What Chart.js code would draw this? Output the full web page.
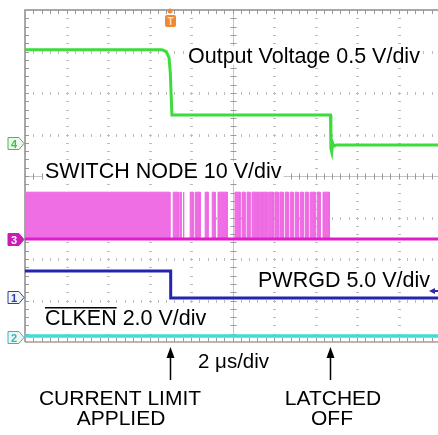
<!DOCTYPE html>
<html lang="en">
<head>
<meta charset="UTF-8">
<title>Current limit scope capture</title>
<style>
  body { margin: 0; background: #fff; overflow: hidden; }
  #wrap { position: relative; width: 438px; height: 435px; }
</style>
<script src="https://cdn.jsdelivr.net/npm/chart.js"></script>
</head>
<body>
<div id="wrap"><canvas id="scope" width="438" height="435"></canvas></div>
<script>
// x = horizontal divisions (2 us/div), y = vertical divisions from bottom of screen
const xMax = 9.95;

// channel 4 - output voltage
const outX = [0, 3.30, 3.40, 3.47, 3.50, 3.54, 7.36, 7.37, 7.39, 7.41, 7.44, 7.50, xMax];
const outY = [7.04, 7.04, 7.00, 6.85, 6.50, 5.47, 5.47, 4.66, 4.58, 4.80, 4.72, 4.75, 4.75];

// channel 3 - switch node (baseline / top of pulses, pulse edges)
const swLow = 2.48;
const swHigh = 3.61;
const pulseStart = [0, 3.57, 3.73, 3.81, 3.98, 4.10, 4.14, 4.34, 4.51, 4.65, 5.06, 5.23, 5.35, 5.47,
                    5.61, 5.73, 5.86, 6.02, 6.14, 6.27, 6.39, 6.51, 6.63, 6.75, 6.87, 7.04, 7.18];
const pulseEnd   = [3.49, 3.69, 3.76, 3.83, 4.05, 4.12, 4.22, 4.41, 4.58, 4.87, 5.18, 5.30, 5.42, 5.59,
                    5.71, 5.83, 5.98, 6.10, 6.22, 6.34, 6.46, 6.58, 6.70, 6.82, 6.99, 7.11, 7.33];

// channel 1 - PWRGD
const pgX = [0, 3.51, 3.51, xMax];
const pgY = [1.71, 1.71, 1.06, 1.06];

// channel 2 - CLKEN
const ckX = [0, xMax];
const ckY = [0.145, 0.145];

// channel ground markers on the left
const chanLabels = ['4', '3', '1', '2'];
const chanLevels = [4.80, 2.48, 1.08, 0.12];
const chanColors = ['#3cc43c', '#c81cb4', '#3838b0', '#30b8c0'];

// events marked under the screen
const eventX = [3.50, 7.36];
const eventLines = [['CURRENT LIMIT', 'APPLIED'], ['LATCHED', 'OFF']];

const pts = (xs, ys) => xs.map((v, i) => ({x: v, y: ys[i]}));

const swPts = [];
pulseStart.forEach((s, i) => {
  swPts.push({x: s, y: swLow}, {x: s, y: swHigh}, {x: pulseEnd[i], y: swHigh}, {x: pulseEnd[i], y: swLow});
});
swPts.push({x: xMax, y: swLow});

const FONT = "'Liberation Sans', Arial, sans-serif";

function label(ctx, text, x, y, size, align) {
  ctx.font = size + 'px ' + FONT;
  ctx.textAlign = align || 'left';
  const w = ctx.measureText(text).width;
  const left = align === 'center' ? x - w / 2 : x;
  ctx.fillStyle = '#fff';
  ctx.fillRect(left - 2, y - size * 0.78, w + 4, size * 0.86);
  ctx.fillStyle = '#000';
  ctx.fillText(text, x, y);
  return w;
}

const scopeDecor = {
  id: 'scopeDecor',
  beforeDatasetsDraw(chart) {
    const {ctx, chartArea: a, scales: {x, y}} = chart;
    ctx.save();
    // dotted graticule
    ctx.fillStyle = '#bcbcbc';
    for (let i = 1; i < 10; i++) {
      if (i === 5) continue;
      const px = Math.round(x.getPixelForValue(i));
      for (let m = 1; m < 40; m++) {
        const py = Math.round(y.getPixelForValue(m / 5));
        ctx.fillRect(px - 1, py, 3, 1);
      }
    }
    for (let j = 1; j < 8; j++) {
      if (j === 4) continue;
      const py = Math.round(y.getPixelForValue(j));
      for (let m = 1; m < 50; m++) {
        const px = Math.round(x.getPixelForValue(m / 5));
        ctx.fillRect(px, py - 1, 1, 3);
      }
    }
    // center axes with minor ticks
    const cx = Math.round(x.getPixelForValue(5)) + 0.5;
    const cy = Math.round(y.getPixelForValue(4)) + 0.5;
    ctx.strokeStyle = '#c4c4c4';
    ctx.lineWidth = 1;
    ctx.beginPath();
    ctx.moveTo(a.left, cy); ctx.lineTo(a.right, cy);
    ctx.moveTo(cx, a.top); ctx.lineTo(cx, a.bottom);
    ctx.stroke();
    ctx.strokeStyle = '#9a9a9a';
    ctx.beginPath();
    for (let m = 1; m < 50; m++) {
      const px = Math.round(x.getPixelForValue(m / 5)) + 0.5;
      ctx.moveTo(px, cy - 3); ctx.lineTo(px, cy + 3);
      ctx.moveTo(px, a.top); ctx.lineTo(px, a.top + 4);
      ctx.moveTo(px, a.bottom); ctx.lineTo(px, a.bottom - 4);
    }
    for (let m = 1; m < 40; m++) {
      const py = Math.round(y.getPixelForValue(m / 5)) + 0.5;
      ctx.moveTo(cx - 3, py); ctx.lineTo(cx + 3, py);
      ctx.moveTo(a.left, py); ctx.lineTo(a.left + 4, py);
    }
    ctx.stroke();
    // screen border
    ctx.strokeStyle = '#8c8c8c';
    ctx.lineWidth = 1.5;
    ctx.beginPath();
    ctx.moveTo(a.right, a.top); ctx.lineTo(a.left, a.top); ctx.lineTo(a.left, a.bottom);
    ctx.stroke();
    ctx.strokeStyle = '#a89a92';
    ctx.beginPath();
    ctx.moveTo(a.left, a.bottom); ctx.lineTo(a.right, a.bottom);
    ctx.stroke();
    ctx.restore();
  },
  afterDraw(chart) {
    const {ctx, chartArea: a, scales: {x, y}} = chart;
    ctx.save();
    ctx.textBaseline = 'alphabetic';
    label(ctx, 'Output Voltage 0.5 V/div', 188, 63, 21.5);
    label(ctx, 'SWITCH NODE 10 V/div', 45, 178, 21.5);
    label(ctx, 'PWRGD 5.0 V/div', 258, 287, 21.5);
    label(ctx, 'CLKEN 2.0 V/div', 45, 325, 21.5);
    ctx.font = '21.5px ' + FONT;
    const wc = ctx.measureText('CLKEN').width;
    ctx.fillStyle = '#000';
    ctx.fillRect(45, 307, wc, 1.5);

    // time base and event arrows
    label(ctx, '2 \u03bcs/div', 198, 368, 20.5);
    eventX.forEach((ev, i) => {
      const px = Math.round(x.getPixelForValue(ev)) + 0.5;
      ctx.strokeStyle = '#000';
      ctx.fillStyle = '#000';
      ctx.lineWidth = 1.5;
      ctx.beginPath();
      ctx.moveTo(px, 356); ctx.lineTo(px, 380);
      ctx.stroke();
      ctx.beginPath();
      ctx.moveTo(px, 347); ctx.lineTo(px - 4, 358); ctx.lineTo(px + 4, 358); ctx.closePath();
      ctx.fill();
    });
    label(ctx, eventLines[0][0], 120, 405, 21, 'center');
    label(ctx, eventLines[0][1], 121, 425, 21, 'center');
    label(ctx, eventLines[1][0], 333, 405, 21, 'center');
    label(ctx, eventLines[1][1], 332, 425, 21, 'center');

    // channel ground tags
    chanLabels.forEach((lb, i) => {
      const py = Math.round(y.getPixelForValue(chanLevels[i])) + 0.5;
      const filled = lb === '3';
      ctx.beginPath();
      ctx.moveTo(8, py - 6); ctx.lineTo(19, py - 6); ctx.lineTo(24, py); ctx.lineTo(19, py + 6); ctx.lineTo(8, py + 6);
      ctx.closePath();
      ctx.fillStyle = filled ? chanColors[i] : '#eef6f2';
      ctx.fill();
      ctx.strokeStyle = chanColors[i];
      ctx.lineWidth = 1;
      ctx.stroke();
      ctx.fillStyle = filled ? '#fff' : chanColors[i];
      ctx.font = 'bold 11px ' + FONT;
      ctx.textAlign = 'center';
      ctx.fillText(lb, 14, py + 4);
    });

    // trigger position marker
    const tx = Math.round(x.getPixelForValue(eventX[0]));
    ctx.fillStyle = '#ee8833';
    ctx.beginPath();
    ctx.arc(tx, 11, 2.5, 0, Math.PI * 2);
    ctx.fill();
    ctx.beginPath();
    ctx.roundRect(tx - 5, 15, 11, 12, 2);
    ctx.fill();
    ctx.fillStyle = '#ffe2c4';
    ctx.font = 'bold 10px ' + FONT;
    ctx.textAlign = 'center';
    ctx.fillText('T', tx + 0.5, 25);

    // PWRGD trigger level arrow at right edge
    const ay = Math.round(y.getPixelForValue(1.23));
    ctx.fillStyle = '#2a2aa8';
    ctx.beginPath();
    ctx.moveTo(429, ay); ctx.lineTo(435, ay - 3); ctx.lineTo(435, ay + 3); ctx.closePath();
    ctx.fill();
    ctx.fillRect(434, ay - 1, 4, 2);
    ctx.restore();
  }
};

new Chart(document.getElementById('scope'), {
  type: 'line',
  data: {
    datasets: [
      {data: pts(outX, outY), borderColor: '#3ddc3d', borderWidth: 3, order: 1},
      {data: pts(ckX, ckY), borderColor: '#3cdcdc', borderWidth: 3.5, order: 2},
      {data: pts(pgX, pgY), borderColor: '#2424b0', borderWidth: 3, order: 3},
      {data: pts([0, xMax], [swLow, swLow]), borderColor: '#e01ccc', borderWidth: 3, order: 4},
      {data: swPts, borderColor: '#ee68e2', backgroundColor: '#ef6ee4', borderWidth: 1,
       fill: {value: swLow}, order: 5}
    ]
  },
  options: {
    responsive: false,
    animation: false,
    layout: {padding: {left: 25, top: 10, right: 0, bottom: 93}},
    elements: {point: {radius: 0}, line: {tension: 0, borderJoinStyle: 'miter'}},
    plugins: {legend: {display: false}, tooltip: {enabled: false}},
    scales: {
      x: {type: 'linear', min: 0, max: xMax, display: false},
      y: {type: 'linear', min: 0, max: 8, display: false}
    }
  },
  plugins: [scopeDecor]
});
</script>
</body>
</html>
